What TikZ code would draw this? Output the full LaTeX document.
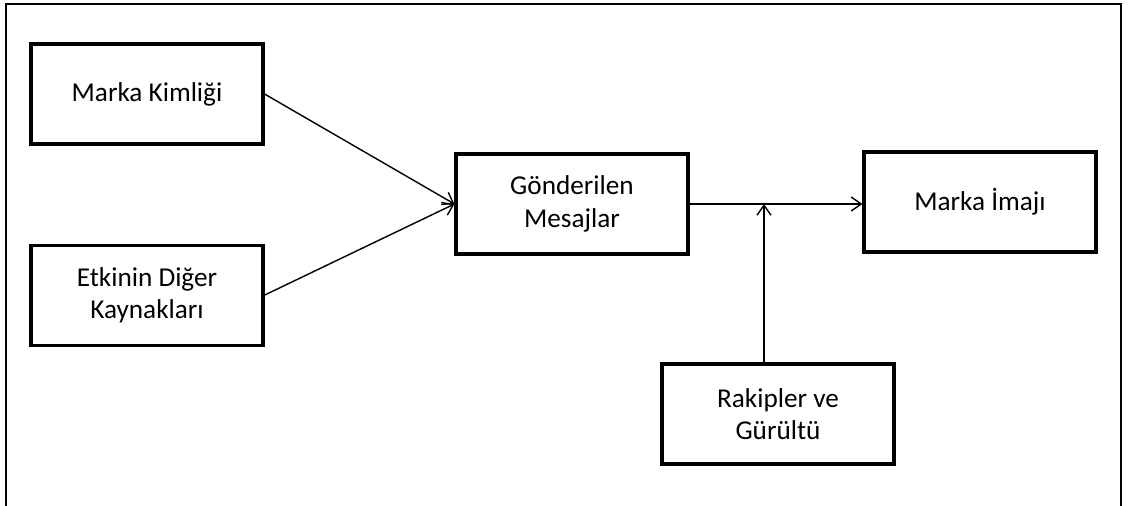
\documentclass[tikz,border=0pt]{standalone}
\usepackage{fontspec}
\setmainfont{Carlito}
\usepackage{tikz}
\usetikzlibrary{arrows.meta, positioning}
\tikzset{block/.style={draw, line width=1.8pt, minimum width=4.64cm, minimum height=2cm, align=center, font=\fontsize{15.5}{18.5}\selectfont}}

\begin{document}
\begin{tikzpicture}[x=0.02cm, y=-0.02cm, >={Straight Barb[length=2mm, width=2.8mm]}, line width=0.8pt]
\useasboundingbox (0,0) rectangle (1136,506);
\draw [line width=1.2pt] (6,506) -- (6,4) -- (1121,4) -- (1121,506);
\node[block] (kimlik) at (147,94) {Marka Kimliği};
\node[block, below=1.96cm of kimlik] (etki) {Etkinin Diğer\\Kaynakları};
\node[block] (mesaj) at (572,204) {Gönderilen\\Mesajlar};
\node[block] (imaj) at (980,202) {Marka İmajı};
\node[block] (rakip) at (778,414) {Rakipler ve\\Gürültü};
\coordinate (kesisim) at (764,204);
\draw [->] (kimlik.east) -- (mesaj.west);
\draw [->] (etki.east) -- (mesaj.west);
\draw [->] (mesaj.east) -- (mesaj.east -| imaj.west);
\draw [->] (rakip.north -| kesisim) -- (kesisim);
\end{tikzpicture}
\end{document}
